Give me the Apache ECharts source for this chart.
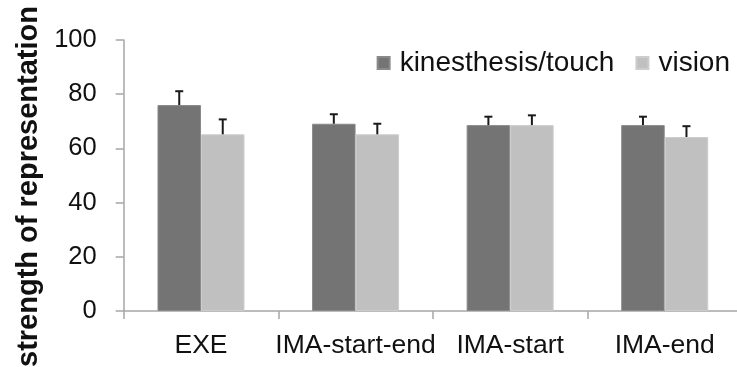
<!DOCTYPE html>
<html>
<head>
<meta charset="utf-8">
<script src="https://cdn.jsdelivr.net/npm/echarts@6/dist/echarts.min.js"></script>
<style>
  html, body { margin: 0; padding: 0; background: #fff; }
  #chart { width: 737px; height: 367px; }
</style>
</head>
<body>
<div id="chart"></div>
<script>
// Mean strength of representation per condition, with upper error bars
var categories = ['EXE', 'IMA-start-end', 'IMA-start', 'IMA-end'];
var kinesthesis = [76.0, 69.1, 68.6, 68.6];
var kinesthesisErr = [5.1, 3.5, 3.1, 3.1];
var vision = [65.2, 65.2, 68.6, 64.2];
var visionErr = [5.5, 3.9, 3.6, 4.0];
var yTicks = [0, 20, 40, 60, 80, 100];

var FONT = 'Liberation Sans, Arial, Helvetica, sans-serif';
var BAR_W = 43.5;

// One error whisker per bar: a stem from the bar top up to mean+err, with a cap
function whisker(values, errs, side) {
  return function (params, api) {
    var i = api.value(0);
    var top = api.coord([i, values[i] + errs[i]]);
    var base = api.coord([i, values[i]]);
    var x = base[0] + side * BAR_W / 2;
    var capHalf = 4;
    return {
      type: 'group',
      children: [
        { type: 'line', shape: { x1: x, y1: base[1], x2: x, y2: top[1] },
          style: { stroke: '#1a1a1a', lineWidth: 2 } },
        { type: 'line', shape: { x1: x - capHalf, y1: top[1], x2: x + capHalf, y2: top[1] },
          style: { stroke: '#1a1a1a', lineWidth: 2 } }
      ]
    };
  };
}

var chart = echarts.init(document.getElementById('chart'), null, { renderer: 'canvas' });
chart.setOption({
  animation: false,
  backgroundColor: '#ffffff',
  textStyle: { fontFamily: FONT },
  grid: { left: 123.7, right: -5, top: 40, bottom: 56, containLabel: false, outerBoundsMode: 'none' },
  legend: {
    data: ['kinesthesis/touch', 'vision'],
    right: 2,
    top: 44,
    icon: 'rect',
    itemWidth: 12,
    itemHeight: 12,
    itemGap: 21,
    textStyle: { fontFamily: FONT, fontSize: 28, color: '#111', padding: [0, 0, 0, 5], lineHeight: 28 }
  },
  xAxis: {
    type: 'category',
    data: categories,
    axisLine: { lineStyle: { color: '#a6a6a6', width: 1.5 } },
    axisTick: { show: true, length: 8, lineStyle: { color: '#a6a6a6', width: 1.5 } },
    axisLabel: { fontFamily: FONT, fontSize: 26.5, color: '#111', margin: 21, interval: 0 }
  },
  yAxis: {
    type: 'value',
    min: yTicks[0],
    max: yTicks[yTicks.length - 1],
    interval: yTicks[1] - yTicks[0],
    name: 'strength of representation',
    nameLocation: 'middle',
    nameGap: 78,
    nameRotate: 90,
    nameTextStyle: { fontFamily: FONT, fontSize: 29, fontWeight: 'bold', color: '#111', padding: [0, 22, 0, 0] },
    splitLine: { show: false },
    axisLine: { show: true, lineStyle: { color: '#a6a6a6', width: 1.5 } },
    axisTick: { show: true, length: 8, lineStyle: { color: '#a6a6a6', width: 1.5 } },
    axisLabel: { fontFamily: FONT, fontSize: 25.5, color: '#111', margin: 27 }
  },
  series: [
    {
      name: 'kinesthesis/touch',
      type: 'bar',
      data: kinesthesis,
      barWidth: BAR_W,
      barGap: '0%',
      itemStyle: { color: '#747474', borderColor: '#8a8a8a', borderWidth: 1 }
    },
    {
      name: 'vision',
      type: 'bar',
      data: vision,
      barWidth: BAR_W,
      barGap: '0%',
      itemStyle: { color: '#c0c0c0', borderColor: '#cdcdcd', borderWidth: 1 }
    },
    {
      name: 'kinesthesis error',
      type: 'custom',
      data: categories.map(function (c, i) { return [i]; }),
      renderItem: whisker(kinesthesis, kinesthesisErr, -1),
      z: 5
    },
    {
      name: 'vision error',
      type: 'custom',
      data: categories.map(function (c, i) { return [i]; }),
      renderItem: whisker(vision, visionErr, 1),
      z: 5
    }
  ]
});
</script>
</body>
</html>
